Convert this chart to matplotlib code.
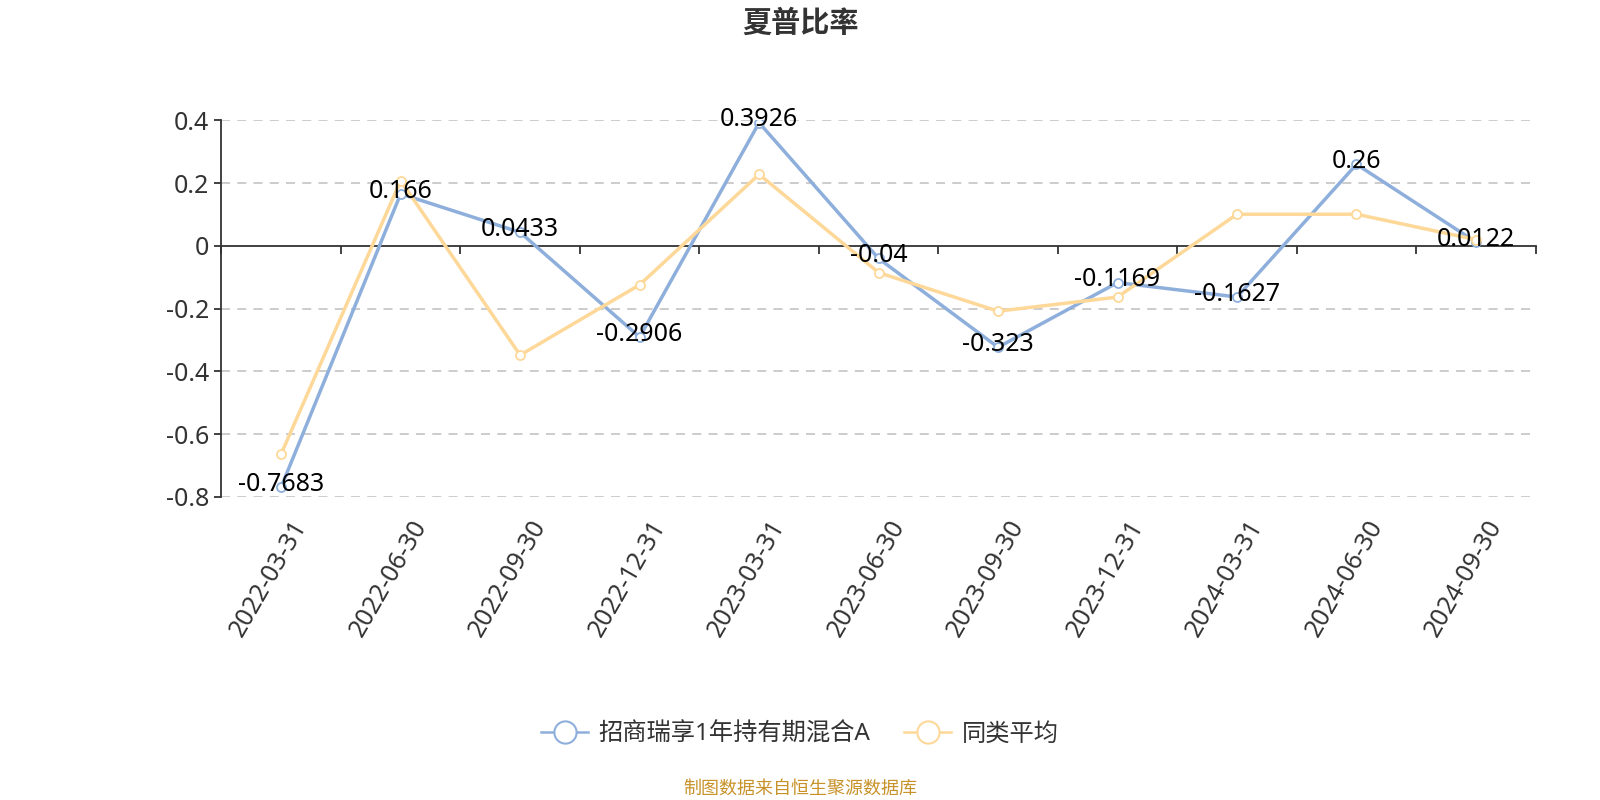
import numpy as np
import matplotlib.pyplot as plt
import matplotlib.transforms as mtransforms
from matplotlib.lines import Line2D

plt.rcParams['font.family'] = ['Noto Sans', 'Noto Sans CJK SC', 'DejaVu Sans']

# data
dates = ['2022-03-31', '2022-06-30', '2022-09-30', '2022-12-31', '2023-03-31',
         '2023-06-30', '2023-09-30', '2023-12-31', '2024-03-31', '2024-06-30',
         '2024-09-30']
fund = [-0.7683, 0.166, 0.0433, -0.2906, 0.3926, -0.04, -0.323, -0.1169,
        -0.1627, 0.26, 0.0122]
peer_avg = [-0.663, 0.208, -0.348, -0.124, 0.228, -0.085, -0.208, -0.163,
            0.101, 0.101, 0.02]
fund_name = '招商瑞享1年持有期混合A'
peer_name = '同类平均'
yticks = [0.4, 0.2, 0, -0.2, -0.4, -0.6, -0.8]

blue = '#8eafdb'
yellow = '#fdd898'
txt = '#333333'

# reference layout measured on a 1568 x 784 canvas
W, H = 1568, 784
fig = plt.figure(figsize=(16, 8), dpi=100)
ax = fig.add_axes([217 / W, 1 - 487 / H, (1505 - 217) / W, (487 - 118) / H])

x = np.arange(len(dates))
ax.plot(x, fund, color=blue, lw=2.5, marker='o', ms=6.5, mfc='white',
        mec=blue, mew=1.3, zorder=3)
ax.plot(x, peer_avg, color=yellow, lw=2.5, marker='o', ms=6.5, mfc='white',
        mec=yellow, mew=1.3, zorder=4)

# value labels of the fund series
for xi, v in zip(x, fund):
    ax.annotate(f'{v:g}', (xi, v), xytext=(0, 2), textcoords='offset points',
                ha='center', va='center', fontsize=18, color='black', zorder=6)

ax.set_xlim(-0.5, len(dates) - 0.5)
ax.set_ylim(-0.8, 0.4)

# y axis
ax.set_yticks(yticks)
ax.set_yticklabels([f'{t:g}' for t in yticks])
ax.tick_params(axis='y', length=5, width=1.3, color=txt, labelsize=18,
               labelcolor=txt, pad=4)
for t in yticks:
    if t != 0:
        ax.axhline(t, color='#c8c8c8', lw=1.3, ls=(0, (5, 4)), zorder=1)

# x axis on the zero line, ticks at category boundaries
ax.spines['bottom'].set_position(('data', 0))
ax.spines['bottom'].set_color(txt)
ax.spines['bottom'].set_linewidth(1.3)
ax.spines['left'].set_color(txt)
ax.spines['left'].set_linewidth(1.3)
ax.spines['top'].set_visible(False)
ax.spines['right'].set_visible(False)
ax.set_xticks(np.arange(len(dates) + 1) - 0.5)
ax.set_xticklabels([])
ax.tick_params(axis='x', length=6, width=1.3, color=txt, direction='out')

trans = mtransforms.blended_transform_factory(ax.transData, ax.transAxes)
for xi, d in zip(x, dates):
    ax.text(xi + 0.08, -0.05, d, transform=trans, rotation=60, ha='right',
            va='top', rotation_mode='anchor', fontsize=18, color=txt)

fig.text(0.5, 1 - 22 / H, '夏普比率', ha='center', va='center', fontsize=21,
         fontweight='bold', color=txt, family=['Noto Sans CJK SC'])

handles = [
    Line2D([], [], color=blue, lw=1.8, marker='o', ms=16, mfc='white',
           mec=blue, mew=1.5),
    Line2D([], [], color=yellow, lw=1.8, marker='o', ms=16, mfc='white',
           mec=yellow, mew=1.5),
]
fig.legend(handles, [fund_name, peer_name], loc='center',
           bbox_to_anchor=(0.5, 1 - 720 / H), ncol=2, frameon=False,
           fontsize=17.5, handlelength=1.9, handletextpad=0.45,
           columnspacing=1.4, labelcolor=txt)

fig.text(0.5, 1 - 773 / H, '制图数据来自恒生聚源数据库', ha='center', va='center',
         fontsize=13, color='#c8922a', family=['Noto Sans CJK SC'])

fig.savefig('out.png', dpi=100)
